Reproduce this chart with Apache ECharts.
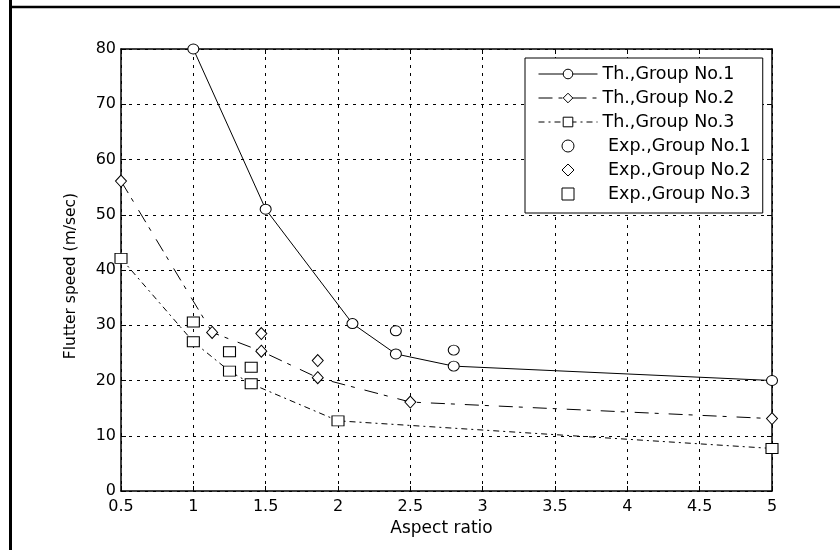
<!DOCTYPE html>
<html>
<head>
<meta charset="utf-8">
<script src="https://cdn.jsdelivr.net/npm/echarts@6/dist/echarts.min.js"></script>
<style>
html,body{margin:0;padding:0;background:#fff;}
#c{width:840px;height:550px;}
</style>
</head>
<body>
<div id="c"></div>
<script>
// Data
var xTicks = [0.5, 1, 1.5, 2, 2.5, 3, 3.5, 4, 4.5, 5];
var yTicks = [0, 10, 20, 30, 40, 50, 60, 70, 80];

var th1 = [[1, 80], [1.5, 51], [2.1, 30.3], [2.4, 24.8], [2.8, 22.6], [5, 20]];
var th2 = [[0.5, 56.1], [1.13, 28.7], [1.47, 25.3], [1.86, 20.5], [2.5, 16.1], [5, 13.1]];
var th3 = [[0.5, 42.1], [1, 27], [1.25, 21.7], [1.4, 19.4], [2, 12.7], [5, 7.7]];

var exp1 = [[2.4, 29], [2.8, 25.5]];
var exp2 = [[1.47, 28.5], [1.86, 23.6]];
var exp3 = [[1, 30.6], [1.25, 25.2], [1.4, 22.4]];

var names = ['Th.,Group No.1', 'Th.,Group No.2', 'Th.,Group No.3',
             ' Exp.,Group No.1', ' Exp.,Group No.2', ' Exp.,Group No.3'];

var FONT = 'DejaVu Sans';
var ICON_CIRCLE = 'path://M5,0A5,5,0,1,1,4.99,0Z';
var ICON_DIAMOND = 'path://M5,0L10,5L5,10L0,5Z';
var ICON_RECT = 'path://M0,0H10V10H0Z';
var chart = echarts.init(document.getElementById('c'), null, {renderer: 'canvas'});

function gridAxisX(pos, show) {
  return {
    type: 'value', position: pos, min: xTicks[0], max: xTicks[xTicks.length - 1], interval: 0.5,
    axisLine: {show: true, onZero: false, lineStyle: {color: '#000', width: 1.5}},
    axisTick: {show: true, inside: true, length: 5, lineStyle: {color: '#000', width: 1}},
    axisLabel: {show: show, color: '#000', fontFamily: FONT, fontSize: 16, margin: 8},
    splitLine: {show: show, lineStyle: {color: '#000', type: [3, 5], width: 1}},
    name: show ? 'Aspect ratio' : '', nameLocation: 'middle', nameGap: 28,
    nameTextStyle: {color: '#000', fontFamily: FONT, fontSize: 17, padding: [0, 10, 0, 0]}
  };
}
function gridAxisY(pos, show) {
  return {
    type: 'value', position: pos, min: yTicks[0], max: yTicks[yTicks.length - 1], interval: 10,
    axisLine: {show: true, onZero: false, lineStyle: {color: '#000', width: 1.5}},
    axisTick: {show: true, inside: true, length: 5, lineStyle: {color: '#000', width: 1}},
    axisLabel: {show: show, color: '#000', fontFamily: FONT, fontSize: 16, margin: 5},
    splitLine: {show: show, lineStyle: {color: '#000', type: [3, 5], width: 1}},
    name: show ? 'Flutter speed (m/sec)' : '', nameLocation: 'middle', nameGap: 42,
    nameTextStyle: {color: '#000', fontFamily: FONT, fontSize: 15.5, padding: [0, 12, 0, 0]}
  };
}

var markerStyle = {color: '#fff', borderColor: '#000', borderWidth: 1, opacity: 1};

function lineSeries(name, data, sym, size, dash) {
  return {
    name: name, type: 'line', data: data, symbol: sym, symbolSize: size, showSymbol: true,
    lineStyle: {color: '#000', width: 1, type: dash},
    itemStyle: markerStyle,
    z: 3
  };
}
function expSeries(name, data, sym, size) {
  return {
    name: name, type: 'scatter', data: data, symbol: sym, symbolSize: size,
    itemStyle: markerStyle,
    z: 4
  };
}

chart.setOption({
  animation: false,
  backgroundColor: '#fff',
  grid: {left: 121, right: 68, top: 49, bottom: 59},
  xAxis: [gridAxisX('bottom', true), gridAxisX('top', false)],
  yAxis: [gridAxisY('left', true), gridAxisY('right', false)],
  legend: {
    orient: 'vertical', left: 525, top: 58,
    backgroundColor: '#fff', borderColor: '#000', borderWidth: 1,
    padding: [7, 12, 10, 13], itemGap: 6, itemWidth: 59, itemHeight: 12,
    lineStyle: {width: 1},
    itemStyle: {borderWidth: 1},
    textStyle: {color: '#000', fontFamily: FONT, fontSize: 17.5, lineHeight: 17},
    data: [
      {name: names[0]}, {name: names[1]}, {name: names[2]},
      {name: names[3], icon: ICON_CIRCLE, itemStyle: markerStyle},
      {name: names[4], icon: ICON_DIAMOND, itemStyle: markerStyle},
      {name: names[5], icon: ICON_RECT, itemStyle: markerStyle}
    ]
  },
  series: [
    lineSeries(names[0], th1, 'circle', [11, 10], 'solid'),
    lineSeries(names[1], th2, 'diamond', [11, 12], [14, 6, 4, 10]),
    lineSeries(names[2], th3, 'rect', [12, 10], [6, 4, 2, 4]),
    expSeries(names[3], exp1, 'circle', [11, 10]),
    expSeries(names[4], exp2, 'diamond', [11, 12]),
    expSeries(names[5], exp3, 'rect', [12, 10])
  ],
  graphic: [
    {type: 'line', shape: {x1: 10.5, y1: 0, x2: 10.5, y2: 550}, style: {stroke: '#000', lineWidth: 3}},
    {type: 'line', shape: {x1: 9, y1: 7, x2: 840, y2: 7}, style: {stroke: '#000', lineWidth: 2.5}}
  ]
});
</script>
</body>
</html>
